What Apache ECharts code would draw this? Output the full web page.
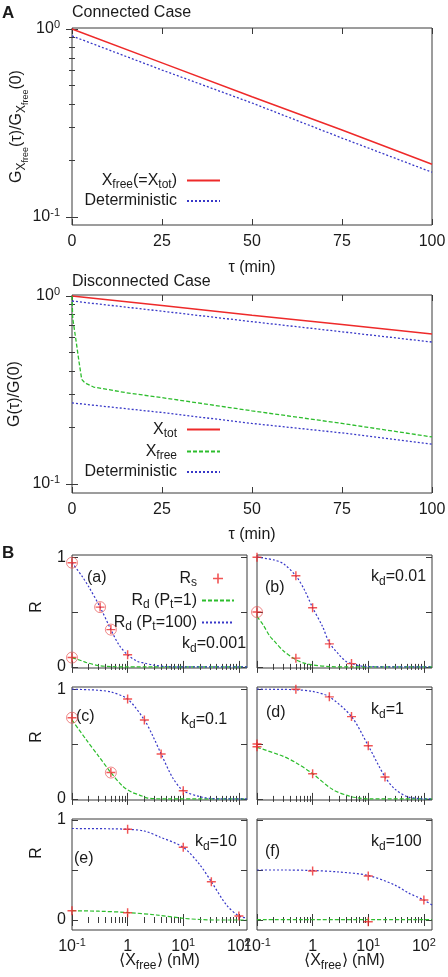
<!DOCTYPE html>
<html><head><meta charset="utf-8">
<script src="https://cdn.jsdelivr.net/npm/echarts@6/dist/echarts.min.js"></script>
<style>html,body{margin:0;padding:0;background:#fff}#c{width:448px;height:977px}</style>
</head><body><div id="c"></div>
<script>
// ================= DATA =================
// Panel A (top): connected case
const conTau = [0, 25, 50, 75, 100];
const conXfree = [1.0, 0.66, 0.436, 0.29, 0.191];
const conDet = [0.918, 0.605, 0.404, 0.263, 0.173];
// Panel A (bottom): disconnected case
const disTau = [0, 25, 50, 75, 100];
const disXtot = [1.0, 0.89, 0.79, 0.705, 0.628];
const disDetTot = [0.94, 0.83, 0.73, 0.645, 0.569];
const disDetFree = [0.27, 0.24, 0.21, 0.187, 0.163];
const disFreeTau = [0, 0.2, 1, 2, 2.7, 3.3, 4, 6, 15, 25, 50, 75, 100];
const disFree = [1.0, 0.76, 0.6, 0.44, 0.36, 0.35, 0.342, 0.328, 0.306, 0.288, 0.245, 0.21, 0.178];
// tick values
const tauTicks = [0, 25, 50, 75, 100];
const gMajor = [0.1, 1];
const gMinor = [0.2, 0.3, 0.4, 0.5, 0.6, 0.7, 0.8, 0.9];
const xfMajor = [0.1, 1, 10, 100];
const xfMinor = [0.2,0.3,0.4,0.5,0.6,0.7,0.8,0.9,2,3,4,5,6,7,8,9,20,30,40,50,60,70,80,90];
const rTicks = [0, 0.5, 1];
const rLabels = [0, 1];
// Panel B: R vs <X_free>, six k_d values
const kdValues = ['0.001', '0.01', '0.1', '1', '10', '100'];
const panelTags = ['(a)', '(b)', '(c)', '(d)', '(e)', '(f)'];
const pt100_a = [[0.1,0.95],[0.15,0.83],[0.2,0.73],[0.32,0.545],[0.5,0.34],[0.7,0.2],[1,0.11],[1.5,0.05],[2,0.035],[3,0.015],[5,0.003],[10,0],[140,0]];
const pt1_a = [[0.1,0.085],[0.15,0.055],[0.18,0.04],[0.3,0.012],[0.5,0.003],[1,0],[140,0]];
const rs_a = [[0.1,0.95],[0.32,0.545],[0.5,0.34],[1,0.11],[0.1,0.085]];
const circ_a = [[0.1,0.95],[0.32,0.545],[0.5,0.34],[0.1,0.085]];
const pt100_b = [[0.1,1.0],[0.2,0.975],[0.3,0.94],[0.5,0.83],[0.7,0.71],[1,0.54],[1.5,0.37],[2,0.22],[3,0.11],[4,0.05],[5,0.03],[7,0.01],[10,0.003],[20,0],[140,0]];
const pt1_b = [[0.1,0.46],[0.13,0.38],[0.17,0.28],[0.2,0.24],[0.3,0.145],[0.5,0.065],[0.7,0.035],[1,0.018],[2,0.003],[5,0],[140,0]];
const rs_b = [[0.1,1.0],[0.5,0.83],[1,0.54],[2,0.21],[5,0.03],[0.1,0.5],[0.5,0.08]];
const circ_b = [[0.1,0.5]];
const pt100_c = [[0.1,1.0],[0.2,0.995],[0.3,0.99],[0.5,0.975],[1,0.91],[2,0.72],[2.86,0.57],[4,0.41],[6.5,0.19],[10,0.075],[20,0.02],[30,0.005],[50,0],[140,0]];
const pt1_c = [[0.1,0.72],[0.18,0.54],[0.3,0.39],[0.5,0.24],[0.82,0.115],[1.2,0.06],[1.64,0.035],[2.2,0.01],[3,0.002],[5,0],[140,0]];
const rs_c = [[1,0.91],[2,0.72],[4,0.41],[10,0.075],[0.1,0.74],[0.5,0.24]];
const circ_c = [[0.1,0.74],[0.5,0.24]];
const pt100_d = [[0.1,1.0],[0.3,0.998],[0.5,0.995],[1,0.98],[2,0.93],[5,0.75],[10,0.485],[20,0.2],[30,0.09],[50,0.02],[80,0.003],[100,0],[140,0]];
const pt1_d = [[0.1,0.47],[0.29,0.39],[0.5,0.33],[1,0.23],[2.3,0.085],[4.6,0.025],[7.5,0.005],[10,0],[140,0]];
const rs_d = [[0.5,1.0],[2,0.93],[5,0.75],[10,0.485],[20,0.2],[0.1,0.5],[0.1,0.475],[1,0.23]];
const circ_d = [];
const pt100_e = [[0.1,0.915],[0.5,0.912],[1,0.907],[2,0.89],[3.8,0.83],[10,0.727],[20,0.55],[32,0.383],[60,0.15],[100,0.04],[140,0.02]];
const pt1_e = [[0.1,0.093],[0.3,0.088],[1,0.075],[3.3,0.05],[10,0.017],[20,0.005],[40,0],[140,0]];
const rs_e = [[1,0.907],[10,0.727],[32,0.383],[100,0.04],[0.1,0.093],[1,0.073]];
const circ_e = [];
const pt100_f = [[0.1,0.5],[0.3,0.5],[1,0.495],[3,0.48],[10,0.445],[30,0.35],[53,0.27],[100,0.2],[140,0.15]];
const pt1_f = [[0.1,0.003],[140,0.003]];
const rs_f = [[1,0.49],[10,0.44],[100,0.2],[10,-0.017]];
const circ_f = [];

// ================= STYLE =================
const FONT = '"Liberation Sans", Arial, Helvetica, sans-serif';
const TXT = '#1a1a1a';
const AX = '#3a3a3a';
const RED = '#ee2a2a', GREEN = '#2dbd2d', BLUE = '#3838c8';
const CROSS = 'path://M0,42H100V58H0Z M42,0H58V100H42Z';

function richE(fs) {
  const b = {fontFamily: FONT, color: TXT, lineHeight: 18, verticalAlign: 'middle'};
  return {
    n: Object.assign({fontSize: fs}, b),
    s: Object.assign({fontSize: 12, padding: [9, 0, 0, 0]}, b),
    ss: Object.assign({fontSize: 9, padding: [17, 0, 0, 0]}, b),
    p: Object.assign({fontSize: 11, padding: [0, 0, 9, 0]}, b)
  };
}
function richZ(fs) {
  const r = richE(fs), o = {};
  Object.keys(r).forEach(k => { const s = Object.assign({}, r[k]); s.fill = s.color; delete s.color; o[k] = s; });
  return o;
}
const zip = (xs, ys) => xs.map((x, i) => [x, ys[i]]);

const grids = [], xAxis = [], yAxis = [], series = [];
function tick(vals, len) {
  return (vals && vals.length) ? {show: true, inside: true, length: len, lineStyle: {color: AX, width: 1}, customValues: vals} : {show: false};
}
function panel(p) {
  const gi = grids.length;
  grids.push({left: p.left, top: p.top, width: p.width, height: p.height, show: true, borderColor: AX, borderWidth: 1,
    backgroundColor: 'rgba(0,0,0,0)', containLabel: false, outerBoundsMode: 'none'});
  const xi = xAxis.length, yi = yAxis.length;
  const xb = {gridIndex: gi, type: p.xType, min: p.xMin, max: p.xMax, axisLine: {show: false}, splitLine: {show: false}, splitArea: {show: false}};
  const yb = {gridIndex: gi, type: p.yType, min: p.yMin, max: p.yMax, axisLine: {show: false}, splitLine: {show: false}, splitArea: {show: false}};
  ['bottom', 'top'].forEach((pos, k) => {
    xAxis.push(Object.assign({}, xb, {position: pos, axisTick: tick(p.xMajor, 6),
      axisLabel: (k === 0 && p.xLabel) ? p.xLabel : {show: false}}, (k === 0 && p.xName) ? p.xName : {}));
    xAxis.push(Object.assign({}, xb, {position: pos, axisTick: tick(p.xMinor, 3), axisLabel: {show: false}}));
  });
  ['left', 'right'].forEach((pos, k) => {
    yAxis.push(Object.assign({}, yb, {position: pos, axisTick: tick(p.yMajor, 6),
      axisLabel: (k === 0 && p.yLabel) ? p.yLabel : {show: false}}, (k === 0 && p.yName) ? p.yName : {}));
    yAxis.push(Object.assign({}, yb, {position: pos, axisTick: tick(p.yMinor, 3), axisLabel: {show: false}}));
  });
  return {xi, yi};
}
function line(ax, name, data, color, width, type, smooth) {
  series.push({type: 'line', name, xAxisIndex: ax.xi, yAxisIndex: ax.yi, data, symbol: 'none', showSymbol: false,
    smooth: smooth || false, lineStyle: {color, width, type}, itemStyle: {color}, z: 3, silent: true});
}
function scatter(ax, name, data, sym, size, itemStyle, z) {
  series.push({type: 'scatter', name, xAxisIndex: ax.xi, yAxisIndex: ax.yi, data, symbol: sym, symbolSize: size,
    itemStyle, z, silent: true});
}

const labelStyleBase = {fontSize: 16, fontFamily: FONT, color: TXT};
const pow10 = (v, oneAsPlain) => {
  const e = Math.round(Math.log10(v));
  if (e === 0 && oneAsPlain) return '{n|1}';
  return '{n|10}{p|' + e + '}';
};

// ---- A top ----
const axA1 = panel({left: 72, top: 28, width: 360, height: 197,
  xType: 'value', xMin: 0, xMax: 100, xMajor: tauTicks,
  xLabel: Object.assign({show: true, customValues: tauTicks, margin: 9}, labelStyleBase),
  xName: {name: 'τ (min)', nameLocation: 'middle', nameGap: 34, nameMoveOverlap: false,
    nameTextStyle: Object.assign({lineHeight: 18}, labelStyleBase)},
  yType: 'log', yMin: 0.0907, yMax: 1.012, yMajor: gMajor, yMinor: gMinor,
  yLabel: Object.assign({show: true, customValues: gMajor, margin: 12, formatter: v => pow10(v, false), rich: richE(16)}, labelStyleBase),
  yName: {name: '{n|G}{s|X}{ss|free}{n|(τ)/G}{s|X}{ss|free}{n|(0)}', nameLocation: 'middle', nameGap: 46, nameMoveOverlap: false,
    nameTextStyle: Object.assign({rich: richE(16)}, labelStyleBase)}
});
line(axA1, 'X_free(=X_tot)', zip(conTau, conXfree), RED, 1.5, 'solid');
line(axA1, 'Deterministic', zip(conTau, conDet), BLUE, 1.3, [2, 2]);

// ---- A bottom ----
const axA2 = panel({left: 72, top: 295, width: 360, height: 198,
  xType: 'value', xMin: 0, xMax: 100, xMajor: tauTicks,
  xLabel: Object.assign({show: true, customValues: tauTicks, margin: 9}, labelStyleBase),
  xName: {name: 'τ (min)', nameLocation: 'middle', nameGap: 33, nameMoveOverlap: false,
    nameTextStyle: Object.assign({lineHeight: 18}, labelStyleBase)},
  yType: 'log', yMin: 0.0896, yMax: 1.012, yMajor: gMajor, yMinor: gMinor,
  yLabel: Object.assign({show: true, customValues: gMajor, margin: 12, formatter: v => pow10(v, false), rich: richE(16)}, labelStyleBase),
  yName: {name: 'G(τ)/G(0)', nameLocation: 'middle', nameGap: 48, nameMoveOverlap: false,
    nameTextStyle: Object.assign({lineHeight: 18}, labelStyleBase)}
});
line(axA2, 'X_tot', zip(disTau, disXtot), RED, 1.5, 'solid');
line(axA2, 'Deterministic', zip(disTau, disDetTot), BLUE, 1.3, [2, 2]);
line(axA2, 'X_free', zip(disFreeTau, disFree), GREEN, 1.3, [4, 2]);
line(axA2, 'Deterministic', zip(disTau, disDetFree), BLUE, 1.3, [2, 2]);

// ---- B panels ----
const bCols = [72, 257];
const bRows = [{top: 555, h: 113, min: -0.01, max: 1.02}, {top: 687, h: 113, min: -0.01, max: 1.02}, {top: 819, h: 111, min: -0.1, max: 1.01}];
const pt100All = [pt100_a, pt100_b, pt100_c, pt100_d, pt100_e, pt100_f];
const pt1All = [pt1_a, pt1_b, pt1_c, pt1_d, pt1_e, pt1_f];
const rsAll = [rs_a, rs_b, rs_c, rs_d, rs_e, rs_f];
const circAll = [circ_a, circ_b, circ_c, circ_d, circ_e, circ_f];
for (let i = 0; i < 6; i++) {
  const col = i % 2, row = Math.floor(i / 2), R = bRows[row];
  const ax = panel({left: bCols[col], top: R.top, width: 175, height: R.h,
    xType: 'log', xMin: 0.1, xMax: 140, xMajor: xfMajor, xMinor: xfMinor,
    xLabel: row === 2 ? Object.assign({show: true, customValues: xfMajor, margin: 8, formatter: v => pow10(v, true), rich: richE(16)}, labelStyleBase) : null,
    xName: row === 2 ? {name: '{n|⟨X}{s|free}{n|⟩ (nM)}', nameLocation: 'middle', nameGap: 22, nameMoveOverlap: false,
      nameTextStyle: Object.assign({rich: richE(16)}, labelStyleBase)} : null,
    yType: 'value', yMin: R.min, yMax: R.max, yMajor: rTicks,
    yLabel: col === 0 ? Object.assign({show: true, customValues: rLabels, margin: 6}, labelStyleBase) : null
  });
  line(ax, 'R_d (P_t=1)', pt1All[i], GREEN, 1.2, [4, 2], 0.3);
  line(ax, 'R_d (P_t=100)', pt100All[i], BLUE, 1.2, [2, 2], 0.3);
  scatter(ax, 'circled', circAll[i], 'circle', 11, {color: 'rgba(0,0,0,0)', borderColor: 'rgba(228,70,70,0.8)', borderWidth: 1}, 4);
  scatter(ax, 'R_s', rsAll[i], CROSS, 9, {color: RED}, 5);
}

// ---- legends ----
const legNames = {
  'X_free(=X_tot)': '{n|X}{s|free}{n|(=X}{s|tot}{n|)}',
  'Deterministic': '{n|Deterministic}',
  'X_tot': '{n|X}{s|tot}',
  'X_free': '{n|X}{s|free}',
  'R_s': '{n|R}{s|s}',
  'R_d (P_t=1)': '{n|R}{s|d}{n| (P}{s|t}{n|=1)}',
  'R_d (P_t=100)': '{n|R}{s|d}{n| (P}{s|t}{n|=100)}'
};
const hiddenSym = {color: 'rgba(0,0,0,0)', borderColor: 'rgba(0,0,0,0)', borderWidth: 0, opacity: 0};
function legend(names, right, top, itemWidth, pad) {
  const data = names.map(n => n === 'R_s' ? {name: n} : {name: n, itemStyle: hiddenSym});
  return {orient: 'vertical', align: 'right', right, top, padding: 0, itemWidth, itemHeight: 10, itemGap: 1,
    selectedMode: false, data, formatter: n => legNames[n],
    textStyle: Object.assign({rich: richE(16), lineHeight: 18, padding: [0, pad, 0, 0]}, labelStyleBase)};
}

// ---- annotations ----
const gtext = (x, y, text, extra) => ({type: 'text', x, y, silent: true,
  style: Object.assign({text, fontSize: 16, fontFamily: FONT, fill: TXT, align: 'left', verticalAlign: 'middle', rich: richZ(16)}, extra || {})});
const graphics = [
  gtext(2, 13, 'A', {fontWeight: 'bold', fontSize: 17}),
  gtext(72, 13, 'Connected Case'),
  gtext(72, 282, 'Disconnected Case'),
  gtext(2, 553, 'B', {fontWeight: 'bold', fontSize: 17})
];
const kdPos = [[182, 644], [371, 577], [181, 720], [371, 710], [195, 842], [371, 842]];
const tagPos = [[87, 578], [265, 588], [76, 717], [266, 713], [74, 859], [265, 852]];
for (let i = 0; i < 6; i++) {
  graphics.push(gtext(kdPos[i][0], kdPos[i][1], '{n|k}{s|d}{n|=' + kdValues[i] + '}'));
  graphics.push(gtext(tagPos[i][0], tagPos[i][1], panelTags[i]));
}
[607, 737, 853].forEach(y => {
  const t = gtext(37, y, 'R', {align: 'center'});
  t.rotation = Math.PI / 2;
  graphics.push(t);
});

const chart = echarts.init(document.getElementById('c'), null, {renderer: 'canvas'});
chart.setOption({
  animation: false,
  backgroundColor: '#ffffff',
  textStyle: {fontFamily: FONT},
  grid: grids, xAxis, yAxis, series,
  legend: [
    legend(['X_free(=X_tot)', 'Deterministic'], 227, 170, 33, 5),
    legend(['X_tot', 'X_free', 'Deterministic'], 227, 419, 33, 5),
    legend(['R_s', 'R_d (P_t=1)', 'R_d (P_t=100)'], 213, 568, 32, 0)
  ],
  graphic: graphics
});
</script></body></html>
